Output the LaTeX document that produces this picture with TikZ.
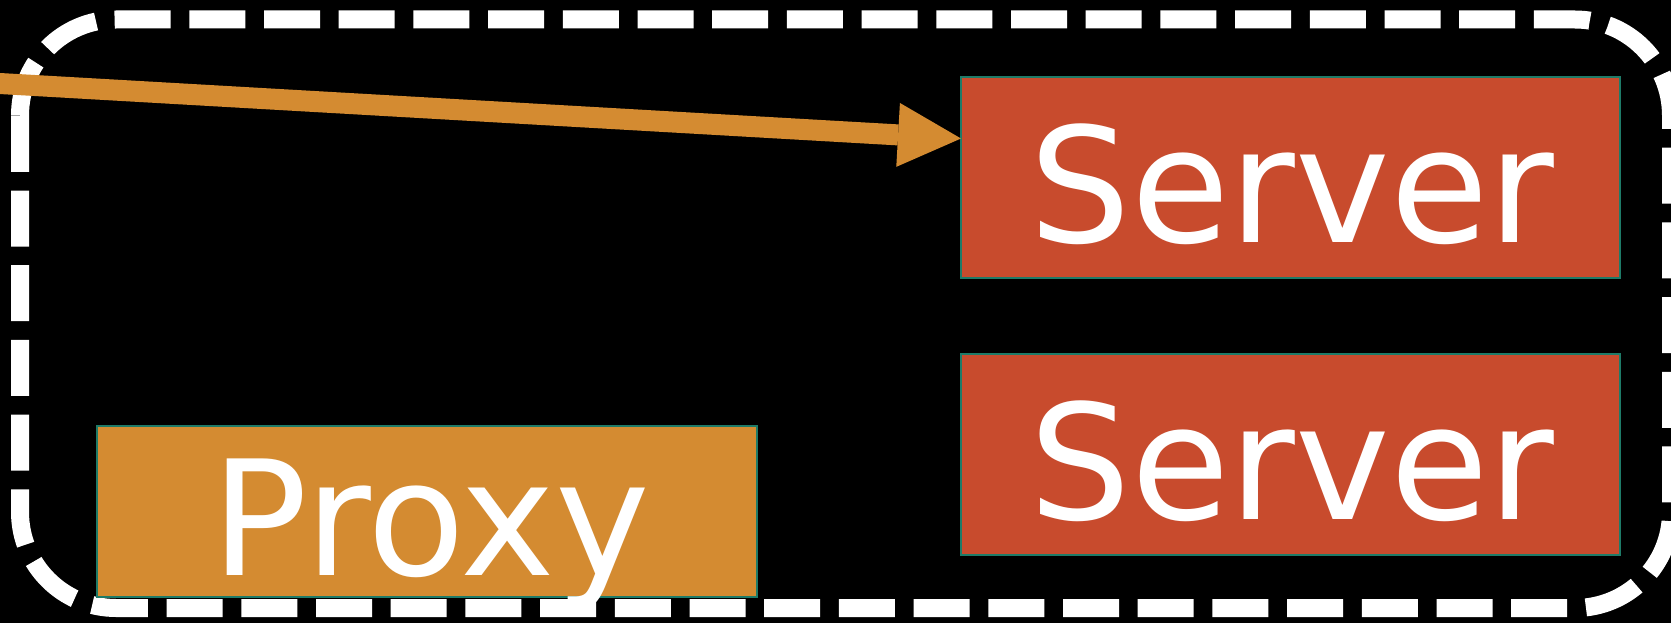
\documentclass[tikz,border=0pt]{standalone}
\usepackage{fontspec}
\setmainfont{DejaVu Sans}
\usetikzlibrary{arrows.meta,calc}
\definecolor{srv}{HTML}{C84B2D}
\definecolor{prx}{HTML}{D48B31}
\definecolor{edgec}{HTML}{1E7B68}
\tikzset{
  box/.style={draw=edgec, line width=2pt, inner sep=0pt, outer sep=0pt},
  serverbox/.style={box, fill=srv, minimum width=659pt, minimum height=201pt},
  proxybox/.style={box, fill=prx, minimum width=660pt, minimum height=171pt},
  lbl/.style={text=white, anchor=base, inner sep=0pt, font=\fontsize{160}{160}\selectfont},
  frame/.style={draw=white, line width=18pt, dash pattern=on 56pt off 18.7pt, rounded corners=96pt},
  arrowline/.style={draw=prx, line width=21pt, -{Triangle[length=63pt,width=64pt,line width=0pt]}}
}
\begin{document}
\begin{tikzpicture}[x=1pt,y=-1pt]
\fill[black] (0,0) rectangle (1671,623);
\useasboundingbox (0,0) rectangle (1671,623);
\clip (0,0) rectangle (1671,623);
\draw[frame] (20,115.5) -- (20,19.5) -- (1671,19.5) -- (1671,608) -- (20,608) -- (20,115.5);
\node[serverbox] (s1) at (1290.5,177.5) {};
\node[serverbox] (s2) at (1290.5,454.5) {};
\node[proxybox] (p) at (427,511.5) {};
\node[lbl] (s1t) at ($(s1.center)+(1.5,64.5)$) {Server};
\node[lbl] (s2t) at ($(s2.center)+(1.5,64.5)$) {Server};
\node[lbl] (pt) at ($(p.center)+(4,64)$) {Proxy};
\coordinate (a0) at (-100,77.8);
\coordinate (tip) at ($(s1.north west)!0.306!(s1.south west)$);
\draw[arrowline] (a0) -- (tip);
\end{tikzpicture}
\end{document}
